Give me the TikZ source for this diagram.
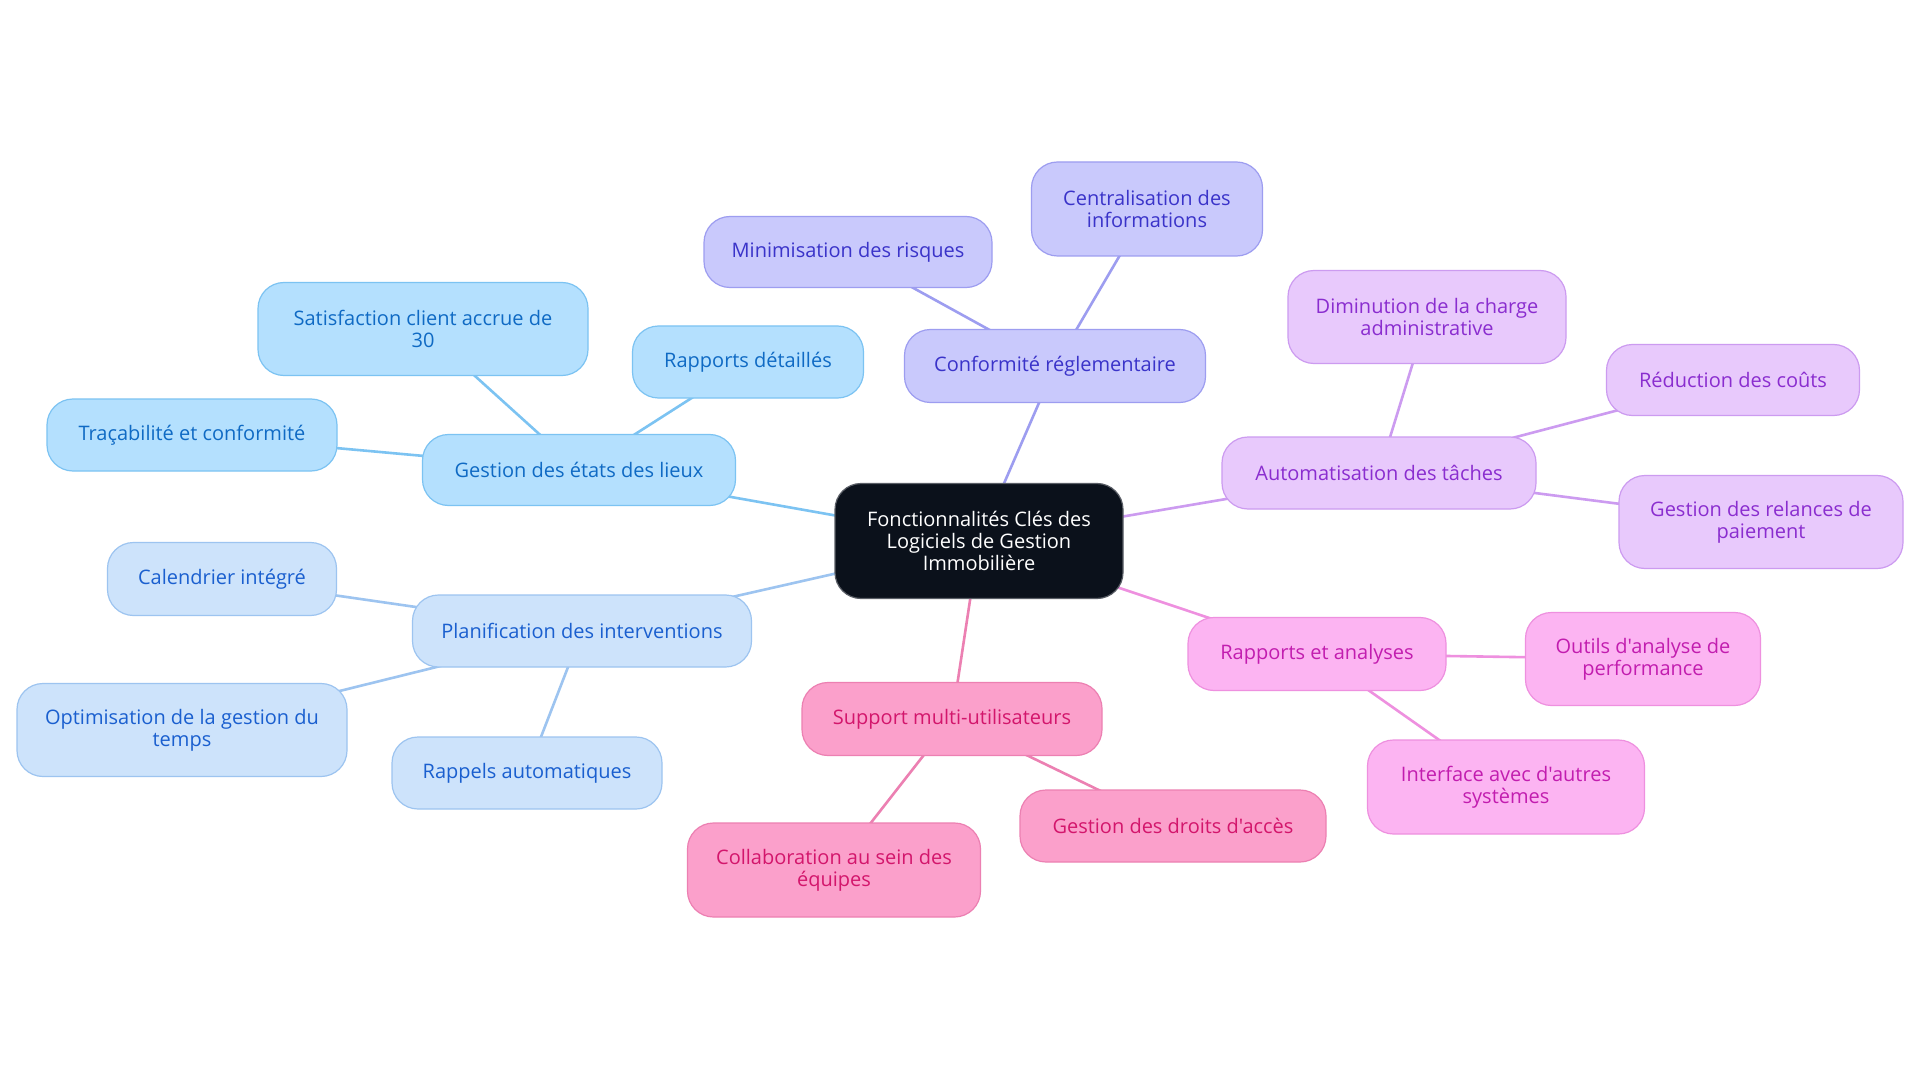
\documentclass[tikz,border=0pt]{standalone}
\usepackage{fontspec}
\setmainfont{Open Sans}[Ligatures=TeXOff]
\definecolor{cAf}{HTML}{B4E0FE}\definecolor{cAd}{HTML}{7CC3F2}\definecolor{cAt}{HTML}{0F6AC4}
\definecolor{cBf}{HTML}{CDE3FB}\definecolor{cBd}{HTML}{9DC4F0}\definecolor{cBt}{HTML}{1A5FCF}
\definecolor{cDf}{HTML}{C9C9FC}\definecolor{cDd}{HTML}{9D9DF0}\definecolor{cDt}{HTML}{3A33C9}
\definecolor{cEf}{HTML}{E8C9FC}\definecolor{cEd}{HTML}{CC9BF0}\definecolor{cEt}{HTML}{8A2DCF}
\definecolor{cFf}{HTML}{FCB4F2}\definecolor{cFd}{HTML}{EE90DF}\definecolor{cFt}{HTML}{C21DAF}
\definecolor{cGf}{HTML}{FBA0CB}\definecolor{cGd}{HTML}{EC80B2}\definecolor{cGt}{HTML}{D3166C}
\definecolor{cCf}{HTML}{0B111B}\definecolor{cCd}{HTML}{5A5E66}
\pgfdeclarelayer{bg}
\pgfsetlayers{bg,main}
\tikzset{
  box/.style={rounded corners=26pt, line width=1.2pt, align=center, inner sep=0pt,
    font=\fontsize{20}{22}\selectfont},
  gA/.style={box, fill=cAf, draw=cAd, text=cAt},
  gB/.style={box, fill=cBf, draw=cBd, text=cBt},
  gD/.style={box, fill=cDf, draw=cDd, text=cDt},
  gE/.style={box, fill=cEf, draw=cEd, text=cEt},
  gF/.style={box, fill=cFf, draw=cFd, text=cFt},
  gG/.style={box, fill=cGf, draw=cGd, text=cGt},
  gC/.style={box, fill=cCf, draw=cCd, text=white},
  sz/.style 2 args={minimum width=#1pt, minimum height=#2pt},
  lk/.style={line width=2.6pt, draw=#1},
}
\begin{document}
\begin{tikzpicture}[x=1pt,y=-1pt]
\begin{pgfonlayer}{bg}
\fill[white] (0,0) rectangle (1920,1083);
\end{pgfonlayer}
\useasboundingbox (0,0) rectangle (1920,1083);

\node[gC, sz={288}{115}] (c) at (979,541) {Fonctionnalités Clés des\\Logiciels de Gestion\\Immobilière};

\node[gA, sz={313}{71}] (a) at (579,470) {Gestion des états des lieux};
\node[gA, sz={330}{93}] (a1) at (423,329) {Satisfaction client accrue de\\30};
\node[gA, sz={231}{72}] (a2) at (748,362) {Rapports détaillés};
\node[gA, sz={290}{72}] (a3) at (192,435) {Traçabilité et conformité};

\node[gB, sz={339}{72}] (b) at (582,631) {Planification des interventions};
\node[gB, sz={229}{73}] (b1) at (222,579) {Calendrier intégré};
\node[gB, sz={330}{93}] (b2) at (182,730) {Optimisation de la gestion du\\temps};
\node[gB, sz={270}{72}] (b3) at (527,773) {Rappels automatiques};

\node[gD, sz={301}{73}] (d) at (1055,366) {Conformité réglementaire};
\node[gD, sz={288}{71}] (d1) at (848,252) {Minimisation des risques};
\node[gD, sz={231}{94}] (d2) at (1147,209) {Centralisation des\\informations};

\node[gE, sz={314}{72}] (e) at (1379,473) {Automatisation des tâches};
\node[gE, sz={278}{93}] (e1) at (1427,317) {Diminution de la charge\\administrative};
\node[gE, sz={253}{71}] (e2) at (1733,380) {Réduction des coûts};
\node[gE, sz={284}{93}] (e3) at (1761,522) {Gestion des relances de\\paiement};

\node[gF, sz={258}{73}] (f) at (1317,654) {Rapports et analyses};
\node[gF, sz={235}{93}] (f1) at (1643,659) {Outils d'analyse de\\performance};
\node[gF, sz={277}{94}] (f2) at (1506,787) {Interface avec d'autres\\systèmes};

\node[gG, sz={300}{73}] (g) at (952,719) {Support multi-utilisateurs};
\node[gG, sz={293}{94}] (g1) at (834,870) {Collaboration au sein des\\équipes};
\node[gG, sz={306}{72}] (g2) at (1173,826) {Gestion des droits d'accès};

\begin{pgfonlayer}{bg}
\draw[lk=cAd] (c.center) -- (a.center);
\draw[lk=cAd] (a.center) -- (a1.center);
\draw[lk=cAd] (a.center) -- (a2.center);
\draw[lk=cAd] (a.center) -- (a3.center);
\draw[lk=cBd] (c.center) -- (b.center);
\draw[lk=cBd] (b.center) -- (b1.center);
\draw[lk=cBd] (b.center) -- (b2.center);
\draw[lk=cBd] (b.center) -- (b3.center);
\draw[lk=cDd] (c.center) -- (d.center);
\draw[lk=cDd] (d.center) -- (d1.center);
\draw[lk=cDd] (d.center) -- (d2.center);
\draw[lk=cEd] (c.center) -- (e.center);
\draw[lk=cEd] (e.center) -- (e1.center);
\draw[lk=cEd] (e.center) -- (e2.center);
\draw[lk=cEd] (e.center) -- (e3.center);
\draw[lk=cFd] (c.center) -- (f.center);
\draw[lk=cFd] (f.center) -- (f1.center);
\draw[lk=cFd] (f.center) -- (f2.center);
\draw[lk=cGd] (c.center) -- (g.center);
\draw[lk=cGd] (g.center) -- (g1.center);
\draw[lk=cGd] (g.center) -- (g2.center);
\end{pgfonlayer}
\end{tikzpicture}
\end{document}
